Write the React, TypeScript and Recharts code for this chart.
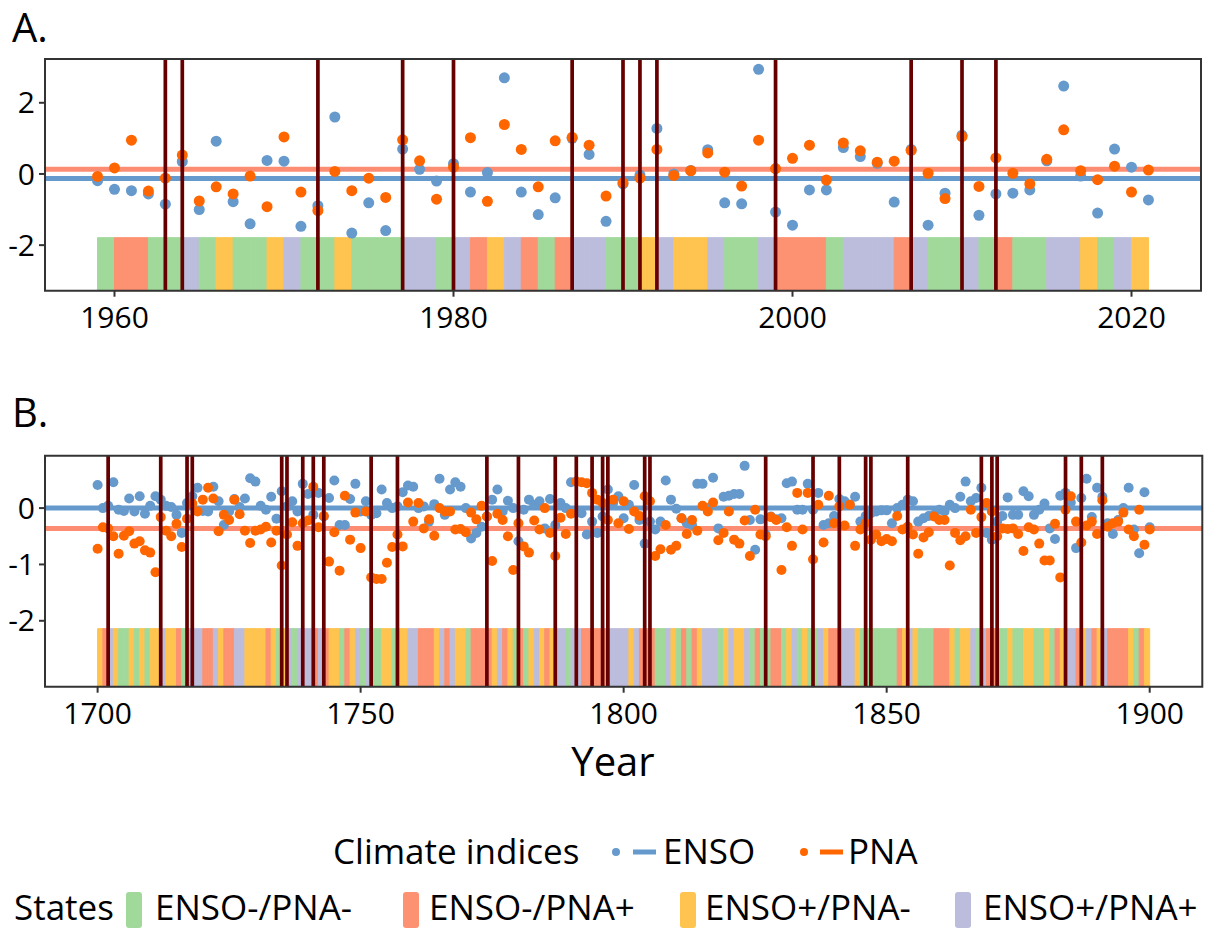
import React from 'react';
import { ComposedChart, Scatter, XAxis, YAxis, ReferenceLine, ReferenceArea } from 'recharts';

const FONT = "'Open Sans', sans-serif";

// ---------- Panel A (1959-2021) ----------
const startYearA = 1959;
const ensoA = [
  -0.19, -0.43, -0.47, -0.56, -0.85, 0.35, -1.0, 0.92, -0.78, -1.40,
  0.38, 0.36, -1.47, -0.89, 1.60, -1.66, -0.81, -1.59, 0.70, 0.13,
  -0.20, 0.29, -0.51, 0.04, 2.70, -0.51, -1.14, -0.67, 1.0, 0.55,
  -1.33, -0.28, -0.03, 1.28, 0.0, 0.1, 0.68, -0.81, -0.84, 2.94,
  -1.07, -1.44, -0.45, -0.45, 0.74, 0.49, 0.3, -0.79, 0.69, -1.44,
  -0.54, 1.09, -1.16, -0.56, -0.54, -0.45, 0.37, 2.47, -0.06, -1.10,
  0.70, 0.19, -0.73,
];
const pnaA = [
  -0.07, 0.17, 0.95, -0.48, -0.12, 0.53, -0.76, -0.36, -0.56, -0.06,
  -0.92, 1.04, -0.51, -1.03, 0.07, -0.47, -0.12, -0.66, 0.96, 0.37,
  -0.71, 0.19, 1.02, -0.77, 1.39, 0.69, -0.36, 0.93, 1.03, 0.81,
  -0.62, -0.25, -0.12, 0.69, -0.04, 0.09, 0.59, 0.05, -0.34, 0.95,
  0.15, 0.44, 0.81, -0.17, 0.87, 0.65, 0.33, 0.36, 0.66, 0.02,
  -0.69, 1.05, -0.35, 0.45, 0.02, -0.28, 0.41, 1.24, 0.09, -0.16,
  0.22, -0.51, 0.11,
];
// G = ENSO-/PNA-, R = ENSO-/PNA+, Y = ENSO+/PNA-, L = ENSO+/PNA+
const statesA = [
  'G','R','R','G','G','L','G','Y','G','G',
  'Y','L','G','G','Y','G','G','G','L','L',
  'G','L','R','Y','L','R','G','R','L','L',
  'G','G','Y','L','Y','Y','L','G','G','L',
  'R','R','R','G','L','L','L','R','L','G',
  'G','L','G','R','G','G','L','L','Y','G',
  'L','Y',
];
const eventsA = [1963, 1964, 1972, 1977, 1980, 1987, 1990, 1991, 1992, 1999, 2007, 2010, 2012];
const meanEnsoA = -0.13;
const meanPnaA = 0.13;
const xTicksA = [1960, 1980, 2000, 2020];
const yTicksA = [-2, 0, 2];

// ---------- Panel B (1700-1900) ----------
const startYearB = 1700;
const ensoB = [
  0.41, 0.0, 0.04, 0.46, -0.03, -0.05, 0.17, -0.06, 0.21, -0.1,
  0.04, 0.21, 0.15, 0.04, 0.02, -0.12, -0.44, 0.09, 0.21, 0.36,
  -0.05, -0.06, 0.38, 0.12, -0.3, -0.06, 0.16, 0.02, 0.17, 0.53,
  0.47, 0.04, -0.03, 0.2, -0.19, 0.3, 0.03, 0.12, -0.06, 0.43,
  0.25, -0.12, 0.27, -0.15, 0.18, 0.49, -0.3, -0.3, 0.16, 0.43,
  -0.06, 0.12, -0.12, -0.09, 0.33, 0.09, 0.0, 0.03, 0.28, 0.4,
  0.38, 0.0, 0.03, -0.24, 0.07, 0.52, -0.12, 0.33, 0.46, 0.38,
  0.0, -0.54, -0.44, -0.33, -0.15, 0.15, 0.33, -0.06, 0.13, 0.0,
  -0.59, -0.03, 0.15, 0.06, 0.12, -0.36, 0.16, -0.3, 0.09, 0.0,
  0.46, -0.06, -0.09, -0.47, -0.24, -0.44, -0.15, 0.33, 0.09, 0.21,
  -0.18, 0.06, 0.41, -0.21, -0.63, -0.24, -0.38, -0.24, 0.49, 0.15,
  -0.01, -0.18, -0.27, -0.3, 0.43, 0.43, 0.0, 0.54, -0.36, 0.2,
  0.22, 0.25, 0.25, 0.75, -0.21, -0.74, -0.2, -0.47, -0.15, -0.2,
  -0.18, 0.44, 0.47, -0.03, -0.03, 0.43, -0.03, 0.27, -0.3, -0.27,
  -0.14, 0.16, 0.12, 0.06, 0.2, -0.24, -0.14, -0.09, -0.06, -0.04,
  -0.04, -0.27, 0.0, 0.06, 0.15, 0.12, -0.24, -0.18, -0.14, -0.12,
  -0.03, -0.06, 0.06, 0.0, 0.2, 0.47, 0.12, 0.18, 0.36, -0.44,
  -0.56, -0.24, -0.14, 0.19, -0.12, -0.12, 0.3, 0.21, -0.12, -0.03,
  0.08, -0.36, -0.55, 0.22, 0.27, 0.1, -0.71, 0.18, 0.52, -0.16,
  0.36, 0.2, -0.27, -0.46, -0.21, 0.0, 0.36, -0.38, -0.8, 0.28,
  -0.34,
];
const pnaB = [
  -0.72, -0.34, -0.36, -0.5, -0.81, -0.49, -0.41, -0.63, -0.59, -0.75,
  -0.79, -1.14, -0.16, -0.4, -0.5, -0.28, -0.69, -0.19, 0.08, -0.06,
  0.15, 0.36, 0.17, -0.41, -0.12, -0.21, 0.15, -0.11, -0.4, -0.62,
  -0.4, -0.38, -0.33, -0.61, -0.4, -1.02, -0.47, -0.25, -0.67, -0.27,
  -0.22, 0.38, -0.34, -0.14, -0.95, -0.43, -1.11, 0.22, -0.56, -0.08,
  -0.71, -0.06, -1.23, -1.26, -1.26, -0.97, -0.69, -0.47, -0.68, 0.1,
  -0.24, 0.09, -0.36, -0.2, -0.49, 0.0, -0.06, -0.06, -0.38, -0.37,
  -0.43, -0.08, -0.2, 0.04, -0.15, -0.94, -0.1, -0.21, -0.5, -1.1,
  -0.27, -0.68, -0.79, -0.22, -0.38, 0.0, -0.44, -0.85, -0.17, -0.46,
  -0.1, 0.47, 0.46, 0.44, 0.27, 0.15, 0.09, -0.21, 0.15, -0.27,
  0.12, -0.37, -0.06, -0.14, 0.21, 0.12, -0.85, -0.73, -0.3, -0.74,
  -0.67, -0.18, -0.46, -0.21, -0.4, 0.04, -0.06, 0.1, -0.57, -0.44,
  -0.06, -0.56, -0.63, -0.22, -0.85, -0.03, -0.47, -0.5, -0.16, -0.21,
  -1.1, -0.34, -0.67, 0.27, -0.38, 0.27, -0.91, 0.06, -0.61, 0.22,
  -0.27, 0.03, -0.31, 0.06, -0.67, -0.38, -0.27, -0.56, -0.47, -0.59,
  -0.55, -0.59, -0.14, -0.38, -0.33, -0.47, -0.81, -0.52, -0.43, -0.15,
  -0.21, -0.21, -1.02, -0.44, -0.57, -0.5, -0.03, -0.44, -0.16, 0.09,
  -0.06, -0.5, -0.36, -0.37, -0.36, -0.46, -0.76, -0.34, -0.38, -0.63,
  -0.93, -0.93, -0.28, -1.23, -0.03, 0.21, -0.24, -0.61, -0.31, -0.24,
  -0.46, 0.14, -0.33, -0.27, -0.24, -0.08, -0.38, -0.5, -0.03, -0.65,
  -0.38,
];
const statesB = [
  'Y','R','L','Y','G','G','Y','G','Y','G',
  'Y','Y','L','Y','Y','R','G','L','L','L',
  'R','R','L','Y','R','R','L','L','Y','Y',
  'Y','Y','R','Y','G','Y','L','G','L','L',
  'L','R','L','R','Y','Y','G','R','Y','L',
  'G','L','G','G','Y','Y','G','Y','Y','L',
  'L','R','R','R','Y','L','R','L','Y','Y',
  'G','R','R','R','R','Y','L','R','Y','G',
  'R','G','Y','L','Y','R','Y','L','L','G',
  'L','L','R','R','R','R','R','L','L','L',
  'L','Y','L','R','R','R','G','G','L','Y',
  'G','R','G','R','Y','L','L','L','G','Y',
  'L','Y','Y','L','G','R','G','G','R','R',
  'G','Y','L','G','Y','G','G','L','Y','R',
  'R','L','L','L','Y','G','G','G','G','G',
  'G','G','R','Y','L','Y','G','G','G','R',
  'R','R','Y','G','Y','Y','L','G','L','R',
  'R','G','G','Y','G','G','Y','Y','G','G',
  'Y','G','R','Y','L','L','R','Y','L','R',
  'Y','L','R','R','R','R','Y','G','R','Y',
];
const eventsB = [
  1702, 1712, 1717, 1718, 1735, 1736, 1739, 1741, 1743, 1752, 1757, 1774, 1780,
  1787, 1791, 1794, 1796, 1797, 1804, 1805, 1827, 1836, 1841, 1846, 1847, 1854,
  1868, 1870, 1871, 1884, 1887, 1891,
];
const meanEnsoB = 0.0;
const meanPnaB = -0.36;
const xTicksB = [1700, 1750, 1800, 1850, 1900];
const yTicksB = [-2, -1, 0];

// ---------- Legend ----------
const stateNames = ['ENSO-/PNA-', 'ENSO-/PNA+', 'ENSO+/PNA-', 'ENSO+/PNA+'];
const stateKeys = ['G', 'R', 'Y', 'L'];
const indexNames = ['ENSO', 'PNA'];

// ---------- Styles ----------
const STATE_COLORS: Record<string, string> = { G: '#A1D99B', R: '#FC9272', Y: '#FEC44F', L: '#BCBDDC' };
const BLUE = '#6699CC';
const ORANGE = '#FF6600';
const BLUE_LINE = '#6699CC';
const SALMON_LINE = '#FC8D72';
const EVENT = '#660000';
const AXIS = '#333333';

type PanelProps = {
  top: number;
  marginTop: number;
  marginRight: number;
  xAxisHeight: number;
  xDomain: [number, number];
  yDomain: [number, number];
  xTicks: number[];
  yTicks: number[];
  startYear: number;
  enso: number[];
  pna: number[];
  states: string[];
  stateTop: number;
  events: number[];
  meanEnso: number;
  meanPna: number;
  r: number;
};

function Panel(p: PanelProps) {
  const ensoPts = p.enso.map((v, i) => ({ x: p.startYear + i, y: v }));
  const pnaPts = p.pna.map((v, i) => ({ x: p.startYear + i, y: v }));
  const dot = (color: string) => (props: any) =>
    props.cx == null ? <g /> : <circle cx={props.cx} cy={props.cy} r={p.r} fill={color} />;
  const tickStyle = { fill: '#000', fontSize: 30, fontFamily: FONT };
  return (
    <div style={{ position: 'absolute', left: 0, top: p.top }}>
      <ComposedChart
        width={1213}
        height={340}
        margin={{ top: p.marginTop, right: p.marginRight, bottom: 0, left: 0 }}
      >
        <XAxis
          type="number"
          dataKey="x"
          domain={p.xDomain}
          ticks={p.xTicks}
          allowDataOverflow
          interval={0}
          height={p.xAxisHeight}
          axisLine={false}
          tickSize={6}
          tickMargin={10}
          tickLine={{ stroke: AXIS, strokeWidth: 2 }}
          tick={tickStyle}
        />
        <YAxis
          type="number"
          dataKey="y"
          domain={p.yDomain}
          ticks={p.yTicks}
          allowDataOverflow
          interval={0}
          width={45}
          axisLine={false}
          tickSize={6}
          tickMargin={4}
          tickLine={{ stroke: AXIS, strokeWidth: 2 }}
          tick={tickStyle}
        />
        {p.states.map((s, i) => (
          <ReferenceArea
            key={'s' + i}
            x1={p.startYear + i}
            x2={p.startYear + i + 1}
            y1={p.yDomain[0]}
            y2={p.stateTop}
            fill={STATE_COLORS[s]}
            fillOpacity={1}
            stroke={STATE_COLORS[s]}
            strokeWidth={1}
            ifOverflow="visible"
            zIndex={50}
          />
        ))}
        <ReferenceLine y={p.meanEnso} stroke={BLUE_LINE} strokeWidth={5} zIndex={120} />
        <ReferenceLine y={p.meanPna} stroke={SALMON_LINE} strokeWidth={5} zIndex={120} />
        <Scatter data={ensoPts} fill={BLUE} shape={dot(BLUE)} isAnimationActive={false} zIndex={600} />
        <Scatter data={pnaPts} fill={ORANGE} shape={dot(ORANGE)} isAnimationActive={false} zIndex={610} />
        {p.events.map((e) => (
          <ReferenceLine key={'e' + e} x={e} stroke={EVENT} strokeWidth={3.7} zIndex={700} />
        ))}
        <ReferenceArea
          x1={p.xDomain[0]}
          x2={p.xDomain[1]}
          y1={p.yDomain[0]}
          y2={p.yDomain[1]}
          fill="none"
          fillOpacity={0}
          stroke={AXIS}
          strokeWidth={2}
          ifOverflow="visible"
          zIndex={800}
        />
      </ComposedChart>
    </div>
  );
}

export default function App() {
  const legendRow1Y = 864;
  const legendRow2Y = 920;
  const idxPos = [
    { dot: 616, line: [633, 656], text: 663, color: BLUE },
    { dot: 804, line: [820, 843], text: 848, color: ORANGE },
  ];
  const statePos = [
    { key: 126, text: 155 },
    { key: 403, text: 429 },
    { key: 680, text: 705 },
    { key: 955, text: 983 },
  ];
  return (
    <div
      style={{
        position: 'absolute',
        left: 0,
        top: 0,
        width: 1213,
        height: 930,
        background: '#fff',
        fontFamily: FONT,
        overflow: 'hidden',
      }}
    >
      <Panel
        top={0}
        marginTop={59}
        marginRight={12}
        xAxisHeight={49.3}
        xDomain={[1955.9, 2024.1]}
        yDomain={[-3.28, 3.23]}
        xTicks={xTicksA}
        yTicks={yTicksA}
        startYear={startYearA}
        enso={ensoA}
        pna={pnaA}
        states={statesA}
        stateTop={-1.79}
        events={eventsA}
        meanEnso={meanEnsoA}
        meanPna={meanPnaA}
        r={5.5}
      />
      <Panel
        top={400}
        marginTop={55.7}
        marginRight={10.7}
        xAxisHeight={53.3}
        xDomain={[1690, 1910]}
        yDomain={[-3.17, 0.93]}
        xTicks={xTicksB}
        yTicks={yTicksB}
        startYear={startYearB}
        enso={ensoB}
        pna={pnaB}
        states={statesB}
        stateTop={-2.14}
        events={eventsB}
        meanEnso={meanEnsoB}
        meanPna={meanPnaB}
        r={5}
      />
      <svg
        width={1213}
        height={930}
        style={{ position: 'absolute', left: 0, top: 0, pointerEvents: 'none' }}
        fontFamily={FONT}
      >
        <text x={12} y={42} fontSize={40} fill="#000">A.</text>
        <text x={12} y={427} fontSize={40} fill="#000">B.</text>
        <text x={613} y={776} fontSize={40} fill="#000" textAnchor="middle">Year</text>

        <text x={333} y={legendRow1Y} fontSize={35} fill="#000">Climate indices</text>
        {indexNames.map((n, i) => (
          <g key={n}>
            <circle cx={idxPos[i].dot} cy={legendRow1Y - 12} r={4} fill={idxPos[i].color} />
            <line
              x1={idxPos[i].line[0]}
              x2={idxPos[i].line[1]}
              y1={legendRow1Y - 12}
              y2={legendRow1Y - 12}
              stroke={i === 0 ? BLUE_LINE : ORANGE}
              strokeWidth={5}
            />
            <text x={idxPos[i].text} y={legendRow1Y} fontSize={35} fill="#000">{n}</text>
          </g>
        ))}

        <text x={14} y={legendRow2Y} fontSize={35} fill="#000">States</text>
        {stateNames.map((n, i) => (
          <g key={n}>
            <rect
              x={statePos[i].key}
              y={legendRow2Y - 28}
              width={16}
              height={36}
              rx={3}
              fill={STATE_COLORS[stateKeys[i]]}
            />
            <text x={statePos[i].text} y={legendRow2Y} fontSize={35} fill="#000">{n}</text>
          </g>
        ))}
      </svg>
    </div>
  );
}
